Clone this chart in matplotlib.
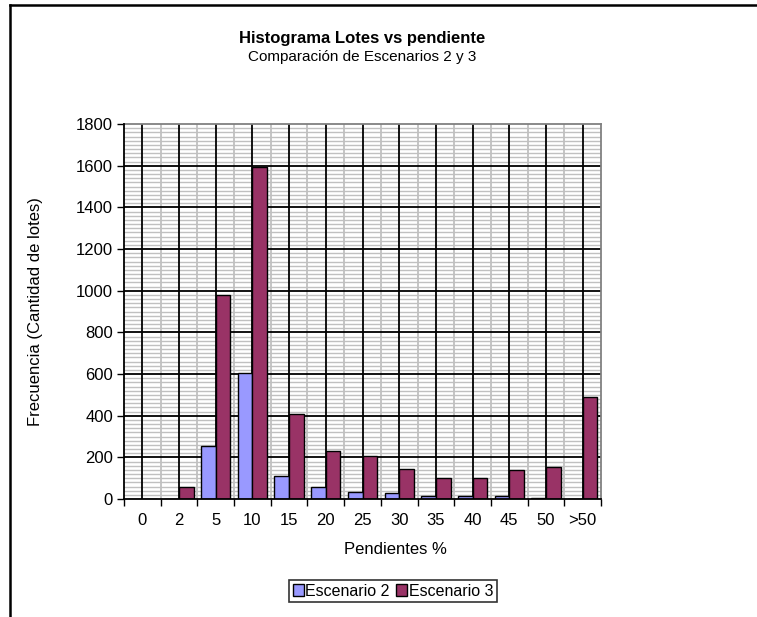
import numpy as np
import matplotlib.pyplot as plt
from matplotlib.lines import Line2D
from matplotlib.patches import Patch

categories = ["0", "2", "5", "10", "15", "20", "25", "30", "35", "40", "45", "50", ">50"]
escenario_2 = [0, 0, 255, 605, 112, 59, 34, 27, 16, 16, 16, 4, 0]
escenario_3 = [0, 60, 980, 1595, 410, 230, 205, 145, 103, 103, 138, 155, 488]

W, H = 757, 617
plt.rcParams["font.family"] = ["Liberation Sans", "DejaVu Sans"]
plt.rcParams["font.size"] = 12

fig = plt.figure(figsize=(W / 100, H / 100), dpi=100)
fig.patch.set_facecolor("white")

# chart area border (only left and top are visible in the picture)
fig.add_artist(Line2D([10 / W, 10 / W], [-0.1, 1 - 5 / H], color="black", lw=1.8,
                      transform=fig.transFigure))
fig.add_artist(Line2D([10 / W, 1.1], [1 - 5 / H, 1 - 5 / H], color="black", lw=1.8,
                      transform=fig.transFigure))

left, right, top, bottom = 124, 601, 124, 499
ax = fig.add_axes([left / W, (H - bottom) / H, (right - left) / W, (bottom - top) / H])

x = np.arange(len(categories))
w = 0.4
ax.bar(x - w / 2, escenario_2, width=w, color="#9999FF", edgecolor="black", lw=1, zorder=3)
ax.bar(x + w / 2, escenario_3, width=w, color="#993366", edgecolor="black", lw=1, zorder=3)

ax.set_xlim(-0.5, len(categories) - 0.5)
ax.set_ylim(0, 1800)

# gridlines
for yv in np.arange(0, 1801, 20):
    if yv % 200:
        ax.axhline(yv, color="#C0C0C0", lw=1, zorder=1)
for yv in np.arange(200, 1800, 200):
    ax.axhline(yv, color="black", lw=1.3, zorder=2)
for xv in x[1:]:
    ax.axvline(xv - 0.5, color="#C0C0C0", lw=1.3, zorder=1)
for xv in x:
    ax.axvline(xv, color="black", lw=1.3, zorder=2)

ax.set_yticks(np.arange(0, 1801, 200))
ax.set_xticks(np.arange(-0.5, len(categories), 1))
ax.set_xticklabels([])
ax.set_xticks(x, minor=True)
ax.set_xticklabels(categories, minor=True)
ax.tick_params(axis="x", which="minor", length=0, pad=10)
ax.tick_params(axis="both", which="major", direction="out", length=5, width=1, colors="black")
ax.tick_params(axis="y", pad=3)

for s in ["left", "bottom"]:
    ax.spines[s].set_color("black")
    ax.spines[s].set_linewidth(1.3)
for s in ["top", "right"]:
    ax.spines[s].set_color("#808080")
    ax.spines[s].set_linewidth(1.3)
ax.spines["left"].set_zorder(4)
ax.spines["bottom"].set_zorder(4)

fig.text(362 / W, 1 - 38 / H, "Histograma Lotes vs pendiente", ha="center", va="center",
         fontsize=12, fontweight="bold")
fig.text(362 / W, 1 - 57 / H, "Comparación de Escenarios 2 y 3", ha="center", va="center",
         fontsize=11)
fig.text(36 / W, 1 - 312 / H, "Frecuencia (Cantidad de lotes)", ha="center", va="center",
         rotation=90, fontsize=12)
fig.text(395 / W, 1 - 549 / H, "Pendientes %", ha="center", va="center", fontsize=12)

handles = [Patch(facecolor="#9999FF", edgecolor="black", label="Escenario 2"),
           Patch(facecolor="#993366", edgecolor="black", label="Escenario 3")]
leg = fig.legend(handles=handles, loc="center", bbox_to_anchor=(393 / W, 1 - 591 / H),
                 ncol=2, frameon=True, fancybox=False, edgecolor="black",
                 handlelength=0.7, handleheight=0.7, handletextpad=0.1,
                 columnspacing=0.4, borderpad=0.25, fontsize=11.5)
leg.get_frame().set_linewidth(1.2)

fig.savefig("out.png", dpi=100, facecolor="white")
